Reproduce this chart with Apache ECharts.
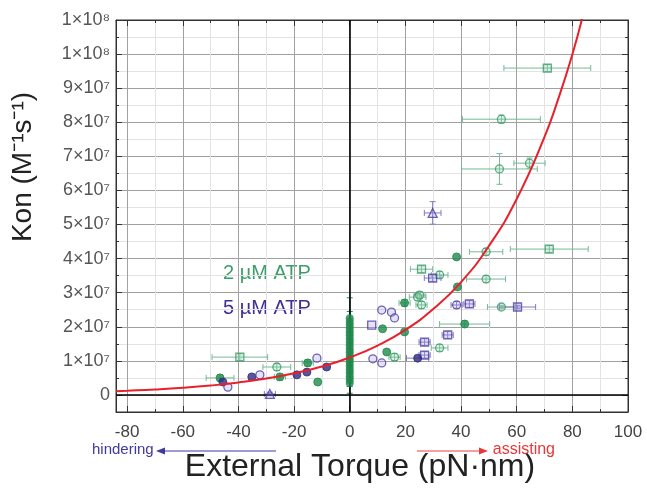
<!DOCTYPE html>
<html><head><meta charset="utf-8">
<script src="https://cdn.jsdelivr.net/npm/echarts@6/dist/echarts.min.js"></script>
<style>html,body{margin:0;padding:0;background:#fff}#c{width:647px;height:488px}</style>
</head><body><div id="c"></div>
<script>
// ---- data (Kon in units of 1e7 M^-1 s^-1, torque in pN·nm) ----
// 2 µM ATP
const atp2Torque = [71, 54.5, 53.8, 64.6, 49, 71.7, 38.4, 25.8, 32.3, 49, 38.7, 24.4, 19.7, 25.1, 25.8, 54.5, 41.3, 11.8, 19.7, 32.3, 16.1, 13.3, -39.5, -26.2, -46.6, -25.1, -15.1, -11.5];
const atp2Kon    = [9.59, 8.09, 6.63, 6.8, 4.2, 4.28, 4.05, 3.69, 3.52, 3.4, 3.17, 2.87, 2.7, 2.93, 2.64, 2.58, 2.08, 1.94, 1.85, 1.38, 1.11, 1.26, 1.11, 0.82, 0.5, 0.53, 0.94, 0.38];
const atp2TorqueErr = [15.6, 14, 13.6, 5.6, 6, 14, 0, 4, 3, 7, 0, 3, 2, 2, 2, 5, 9, 0, 0, 3, 2, 0, 10, 5, 5, 2, 2, 0];
const atp2KonErr    = [0.1, 0.12, 0.45, 0.15, 0.1, 0.1, 0, 0.1, 0.1, 0.1, 0, 0.1, 0.1, 0.1, 0.1, 0.05, 0.1, 0, 0, 0.1, 0.1, 0, 0.1, 0.1, 0.1, 0.1, 0.1, 0];
const atp2Shape = ['s','o','o','o','o','s','f','s','o','o','f','o','f','o','o','o','f','f','f','o','o','f','s','o','f','f','f','f'];
// 2 µM ATP, zero torque
const zeroKon    = [0.35, 0.45, 0.55, 0.65, 0.75, 0.85, 0.95, 1.05, 1.15, 1.25, 1.35, 1.45, 1.55, 1.65, 1.75, 1.85, 1.95, 2.05, 2.15, 2.25];
const zeroKonErr = [0.3, 0.2, 0.2, 0.2, 0.2, 0.2, 0.2, 0.2, 0.2, 0.2, 0.2, 0.2, 0.2, 0.2, 0.2, 0.2, 0.2, 0.2, 0.3, 0.6];
// 5 µM ATP
const atp5Torque = [29.8, 29.8, 38.4, 43, 60.3, 35.2, 11.5, 15, 16.1, 7.9, 26.9, 26.9, 24.4, 8.3, 11.5, -45.6, -43.8, -35.2, -32.3, -28.7, -15.4, -19, -11.8, -8.3];
const atp5Kon    = [5.34, 3.43, 2.64, 2.67, 2.58, 1.76, 2.49, 2.43, 2.26, 2.05, 1.55, 1.17, 1.08, 1.06, 0.94, 0.38, 0.23, 0.53, 0.59, 0.03, 0.67, 0.59, 1.08, 0.82];
const atp5TorqueErr = [3, 3, 2, 2, 6.5, 2, 0, 0, 0, 0, 2, 2, 4, 0, 0, 0, 0, 0, 0, 2, 0, 0, 0, 0];
const atp5KonErr    = [0.33, 0.1, 0.1, 0.1, 0.05, 0.1, 0, 0, 0, 0, 0.1, 0.1, 0, 0, 0, 0, 0, 0, 0, 0.05, 0, 0, 0, 0];
const atp5Shape = ['t','s','o','s','s','s','o','o','o','s','s','s','f','o','o','f','o','f','o','t','f','f','o','f'];
// fitted curve
const fitTorque = [-84, -80, -70, -60, -50, -40, -30, -20, -10, 0, 10, 20, 30, 40, 50, 60, 70, 75, 80, 84];
const fitKon    = [0.109, 0.122, 0.16, 0.21, 0.277, 0.365, 0.48, 0.634, 0.835, 1.1, 1.45, 1.91, 2.52, 3.31, 4.37, 5.75, 7.57, 8.7, 9.99, 11.2];

// ---- styling ----
const G = {edge:'#3a9a68', fill:'rgba(140,205,170,0.35)', solid:'#1f8a4c', err:'#74bb96'};
const B = {edge:'#4a3fa0', fill:'rgba(160,150,225,0.35)', solid:'#2f2a80', err:'#8179c4'};
const symMap = {o:'circle', s:'rect', f:'circle', t:'triangle'};
const FONT = '"Liberation Sans", Arial, sans-serif';

function points(xs, ys, shapes, P){
  return xs.map((x,i)=>{
    const sh = shapes[i];
    return {value:[x, ys[i]], symbol: symMap[sh], symbolSize: sh==='s'?8:(sh==='t'?9:8),
      itemStyle: sh==='f' ? {color:P.solid, borderColor:P.solid, borderWidth:1}
                          : {color:P.fill, borderColor:P.edge, borderWidth:1.3}};
  });
}
function errData(xs, ys, exs, eys){ return xs.map((x,i)=>[x, ys[i], exs[i], eys[i]]); }
function errRender(color){
  return function(params, api){
    const x=api.value(0), y=api.value(1), ex=api.value(2), ey=api.value(3);
    const ch=[]; const st={stroke:color, lineWidth:1};
    if(ex>0){
      const l=api.coord([x-ex,y]), r=api.coord([x+ex,y]);
      ch.push({type:'line', shape:{x1:l[0],y1:l[1],x2:r[0],y2:r[1]}, style:st});
      ch.push({type:'line', shape:{x1:l[0],y1:l[1]-3,x2:l[0],y2:l[1]+3}, style:st});
      ch.push({type:'line', shape:{x1:r[0],y1:r[1]-3,x2:r[0],y2:r[1]+3}, style:st});
    }
    if(ey>0){
      const t=api.coord([x,y+ey]), b=api.coord([x,y-ey]);
      ch.push({type:'line', shape:{x1:t[0],y1:t[1],x2:b[0],y2:b[1]}, style:st});
      ch.push({type:'line', shape:{x1:t[0]-3,y1:t[1],x2:t[0]+3,y2:t[1]}, style:st});
      ch.push({type:'line', shape:{x1:b[0]-3,y1:b[1],x2:b[0]+3,y2:b[1]}, style:st});
    }
    return {type:'group', children:ch};
  };
}
const sup = {'7':'⁷','8':'⁸'};
function yFmt(v){
  if (Math.abs(v) < 1e-9) return '0';
  if (v < 0) return '';
  if (v < 10) return Math.round(v) + '×10' + sup['7'];
  return '1×10' + sup['8'];
}
const frame = '#333';
const axBase = {
  type:'value', axisLine:{show:true, onZero:false, lineStyle:{color:frame, width:1}},
  axisTick:{show:true, inside:true, length:6, lineStyle:{color:frame}},
  minorTick:{show:true, splitNumber:2, length:3, lineStyle:{color:frame}},
};
const zeroX = zeroKon.map(()=>0);

const chart = echarts.init(document.getElementById('c'), null, {renderer:'canvas'});
chart.setOption({
  animation:false,
  backgroundColor:'#fff',
  grid:{left:116, right:19, top:20, bottom:76, show:true, borderColor:frame, borderWidth:1},
  xAxis:[
    Object.assign({}, axBase, {min:-84, max:100, splitNumber:9, position:'bottom',
      axisLabel:{color:'#444', fontSize:17, fontFamily:FONT, margin:12, showMinLabel:false},
      splitLine:{show:true, lineStyle:{color:'#a0a0a0', width:1}},
      minorSplitLine:{show:true, lineStyle:{color:'#e3e3e3', width:1}}}),
    Object.assign({}, axBase, {min:-84, max:100, splitNumber:9, position:'top',
      axisLabel:{show:false}, splitLine:{show:false}})
  ],
  yAxis:[
    Object.assign({}, axBase, {min:-0.5, max:11, splitNumber:11, position:'left',
      axisLabel:{color:'#555', fontSize:18, fontFamily:FONT, margin:6, formatter:yFmt, showMinLabel:false},
      splitLine:{show:true, lineStyle:{color:'#a0a0a0', width:1}},
      minorSplitLine:{show:true, lineStyle:{color:'#e3e3e3', width:1}}}),
    Object.assign({}, axBase, {min:-0.5, max:11, splitNumber:11, position:'right',
      axisLabel:{show:false}, splitLine:{show:false}})
  ],
  series:[
    {type:'line', data:[[0,0]], showSymbol:false, lineStyle:{opacity:0}, silent:true,
      markLine:{symbol:'none', silent:true, label:{show:false}, lineStyle:{color:'#000', width:1.6, type:'solid'},
        data:[{xAxis:0},{yAxis:0}]}, z:3},
    {type:'custom', renderItem:errRender(G.err), data:errData(atp2Torque, atp2Kon, atp2TorqueErr, atp2KonErr), encode:{x:0,y:1}, z:4, clip:true},
    {type:'custom', renderItem:errRender(B.err), data:errData(atp5Torque, atp5Kon, atp5TorqueErr, atp5KonErr), encode:{x:0,y:1}, z:4, clip:true},
    {type:'custom', renderItem:errRender(G.solid), data:errData(zeroX, zeroKon, zeroKon.map(()=>0), zeroKonErr), encode:{x:0,y:1}, z:4, clip:true},
    {type:'scatter', data:points(atp2Torque, atp2Kon, atp2Shape, G), z:5},
    {type:'scatter', data:points(atp5Torque, atp5Kon, atp5Shape, B), z:5},
    {type:'scatter', data:zeroKon.map(v=>[0,v]), symbol:'circle', symbolSize:8, itemStyle:{color:G.solid}, z:5},
    {type:'line', data:fitTorque.map((x,i)=>[x, fitKon[i]]), smooth:true, showSymbol:false, clip:true,
      lineStyle:{color:'#e8202a', width:2}, z:6}
  ],
  graphic:[
    {type:'text', left:223, top:263, style:{text:'2 µM ATP', fill:'#3d9e6a', font:'20px ' + FONT}},
    {type:'text', left:223, top:298, style:{text:'5 µM ATP', fill:'#3e2f96', font:'20px ' + FONT}},
    {type:'text', rotation:Math.PI/2, x:23, y:167, style:{text:'Kon (M⁻¹s⁻¹)', fill:'#222', font:'28px ' + FONT, align:'center', verticalAlign:'middle'}},
    {type:'text', x:360, y:467, style:{text:'External Torque (pN·nm)', fill:'#222', font:'32px ' + FONT, align:'center', verticalAlign:'middle'}},
    {type:'text', x:92, y:450, style:{text:'hindering', fill:'#3e3a9e', font:'15px ' + FONT, align:'left', verticalAlign:'middle'}},
    {type:'line', shape:{x1:162, y1:451, x2:276, y2:451}, style:{stroke:'#7d78c8', lineWidth:1.5}},
    {type:'polygon', shape:{points:[[156,451],[165,447.5],[165,454.5]]}, style:{fill:'#3e3a9e'}},
    {type:'text', x:555, y:450, style:{text:'assisting', fill:'#e8373a', font:'16px ' + FONT, align:'right', verticalAlign:'middle'}},
    {type:'line', shape:{x1:417, y1:451, x2:482, y2:451}, style:{stroke:'#f08080', lineWidth:1.5}},
    {type:'polygon', shape:{points:[[488,451],[479,447.5],[479,454.5]]}, style:{fill:'#e8373a'}}
  ]
});
</script></body></html>
